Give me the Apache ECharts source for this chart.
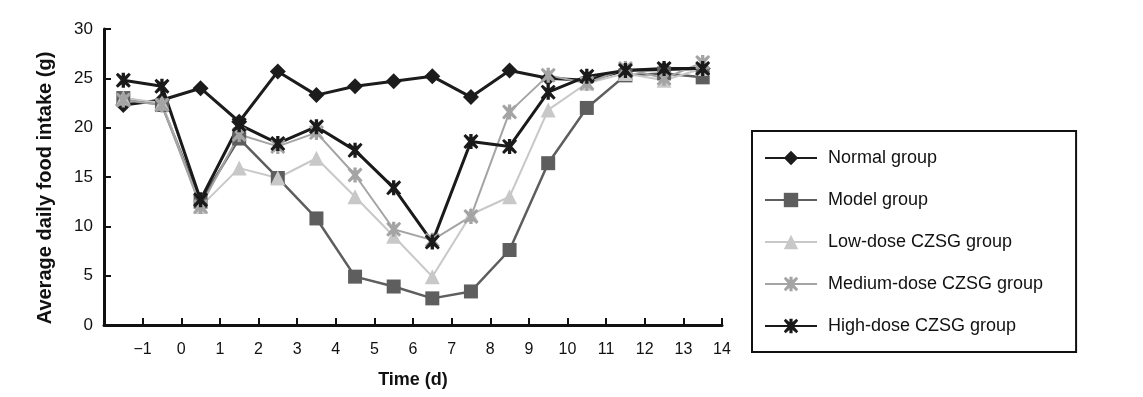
<!DOCTYPE html>
<html>
<head>
<meta charset="utf-8">
<script src="https://cdn.jsdelivr.net/npm/echarts@6/dist/echarts.min.js"></script>
<style>
  html, body { margin: 0; padding: 0; background: #fff; }
  #chart { width: 1143px; height: 397px; }
</style>
</head>
<body>
<div id="chart"></div>
<script>
// day positions (points sit between the day ticks)
var days = [-1.5, -0.5, 0.5, 1.5, 2.5, 3.5, 4.5, 5.5, 6.5, 7.5, 8.5, 9.5, 10.5, 11.5, 12.5, 13.5];

var normalGroup = [22.3, 22.8, 24.0, 20.6, 25.7, 23.3, 24.2, 24.7, 25.2, 23.1, 25.8, 25.0, 24.8, 25.8, 25.9, 26.0];
var modelGroup  = [23.0, 22.3, 12.5, 18.9, 14.9, 10.8, 4.9, 3.9, 2.7, 3.4, 7.6, 16.4, 22.0, 25.3, 25.5, 25.1];
var lowDose     = [23.0, 22.5, 12.0, 15.9, 14.9, 16.9, 13.0, 9.0, 4.9, 11.2, 13.0, 21.8, 24.5, 25.5, 24.8, 26.0];
var mediumDose  = [22.8, 22.3, 12.0, 19.3, 18.1, 19.5, 15.2, 9.7, 8.6, 11.0, 21.6, 25.3, 24.5, 26.0, 25.0, 26.6];
var highDose    = [24.8, 24.2, 12.7, 20.3, 18.4, 20.1, 17.7, 13.9, 8.4, 18.6, 18.1, 23.6, 25.2, 25.8, 26.0, 26.0];

var seriesNames = ['Normal group', 'Model group', 'Low-dose CZSG group', 'Medium-dose CZSG group', 'High-dose CZSG group'];

// asterisk-like star: an X plus a vertical bar
var starPath = 'path://M1.3,0 L5,3.2 L8.7,0 L10,1.3 L6.8,5 L10,8.7 L8.7,10 L5,6.8 L1.3,10 L0,8.7 L3.2,5 L0,1.3 Z M3.9,0 L6.1,0 L6.1,10 L3.9,10 Z';

var font = "'Liberation Sans', Arial, sans-serif";

function pairs(ys) {
  return ys.map(function (y, i) { return [days[i], y]; });
}

function addSeries(name, ys, color, width, symbol, size) {
  return {
    name: name,
    type: 'line',
    data: pairs(ys),
    symbol: symbol,
    symbolSize: size,
    lineStyle: { color: color, width: width },
    itemStyle: { color: color },
    emphasis: { disabled: true },
    animation: false
  };
}

var myChart = echarts.init(document.getElementById('chart'));

var option = {
  backgroundColor: '#fff',
  textStyle: { fontFamily: font },
  grid: {
    left: 104,
    top: 29,
    width: 618,
    height: 296
  },
  legend: {
    orient: 'vertical',
    left: 752,
    top: 131,
    padding: [18, 33, 17, 12],
    borderColor: '#111',
    borderWidth: 2,
    itemWidth: 52,
    itemHeight: 18,
    itemGap: 24,
    textStyle: { fontFamily: font, fontSize: 18, color: '#111', padding: [0, 0, 0, 6] },
    data: seriesNames
  },
  xAxis: {
    type: 'value',
    min: -2,
    max: 14,
    interval: 1,
    name: 'Time (d)',
    nameLocation: 'middle',
    nameGap: 46,
    nameTextStyle: { fontFamily: font, fontSize: 18, fontWeight: 'bold', color: '#111' },
    axisLine: { show: true, onZero: false, lineStyle: { color: '#111', width: 3 } },
    axisTick: { show: true, inside: true, length: 7, lineStyle: { color: '#111', width: 2 } },
    axisLabel: {
      fontFamily: font, fontSize: 16, color: '#111', margin: 17,
      formatter: function (v) {
        if (v === -2) return '';
        return v < 0 ? '\u2212' + Math.abs(v) : String(v);
      }
    },
    splitLine: { show: false }
  },
  yAxis: {
    type: 'value',
    min: 0,
    max: 30,
    interval: 5,
    name: 'Average daily food intake (g)',
    nameLocation: 'middle',
    nameGap: 49,
    nameRotate: 90,
    nameTextStyle: { fontFamily: font, fontSize: 20, fontWeight: 'bold', color: '#111', padding: [0, 22, 0, 0] },
    axisLine: { show: true, onZero: false, lineStyle: { color: '#111', width: 3 } },
    axisTick: { show: true, inside: true, length: 7, lineStyle: { color: '#111', width: 2 } },
    axisLabel: { fontFamily: font, fontSize: 17, color: '#111', margin: 11 },
    splitLine: { show: false }
  },
  series: [
    addSeries(seriesNames[0], normalGroup, '#1c1c1c', 3, 'diamond', 16),
    addSeries(seriesNames[1], modelGroup, '#5e5e5e', 2.5, 'rect', 14),
    addSeries(seriesNames[2], lowDose, '#c8c8c8', 2, 'triangle', 15),
    addSeries(seriesNames[3], mediumDose, '#a4a4a4', 2, starPath, 15),
    addSeries(seriesNames[4], highDose, '#1a1a1a', 3, starPath, 15)
  ]
};

myChart.setOption(option);
window.addEventListener('resize', function () {
  myChart.resize();
});
</script>
</body>
</html>
